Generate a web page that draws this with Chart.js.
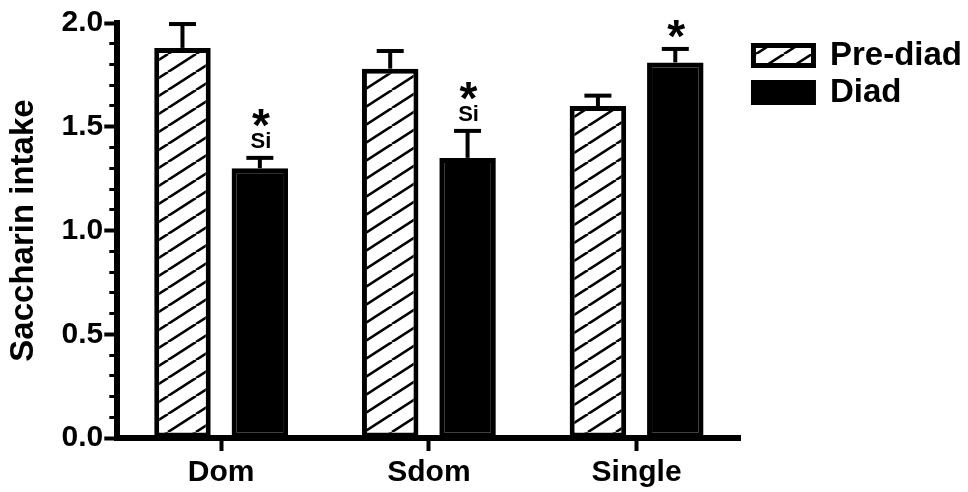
<!DOCTYPE html>
<html>
<head>
<meta charset="utf-8">
<script src="https://cdn.jsdelivr.net/npm/chart.js@4.4.1/dist/chart.umd.min.js"></script>
<style>
  html, body { margin: 0; padding: 0; background: #fff; }
  #wrap { width: 968px; height: 492px; position: relative; }
</style>
</head>
<body>
<div id="wrap"><canvas id="c"></canvas></div>
<script>
// ---- data ----
const categories = ['Dom', 'Sdom', 'Single'];
const seriesNames = ['Pre-diad', 'Diad'];
const preDiad = [1.88, 1.78, 1.60];
const preDiadErr = [0.115, 0.085, 0.05];
const diad = [1.30, 1.35, 1.81];
const diadErr = [0.05, 0.13, 0.065];
const starLabels = ['*', '*', '*'];
const subLabels = ['Si', 'Si', ''];
const yAxisTitle = 'Saccharin intake';
const yMin = 0, yMax = 2.0, yStep = 0.1, yMajor = 0.5;

const FONT = '"Liberation Sans", Arial, Helvetica, sans-serif';
const LEGEND_WIDEN = 5;   // extra room between plot area and legend
const LEGEND_SHIFT = 9;   // shift legend entries right inside that room
Chart.defaults.font.family = FONT;
Chart.defaults.font.weight = 'bold';
Chart.defaults.color = '#000';

function makeHatch() {
  const W = 28, H = 18;
  const c = document.createElement('canvas');
  c.width = W; c.height = H;
  const g = c.getContext('2d');
  g.fillStyle = '#fff';
  g.fillRect(0, 0, W, H);
  g.strokeStyle = '#000';
  g.lineWidth = 2.6;
  for (const dx of [-W, 0, W]) {
    g.beginPath();
    g.moveTo(dx, H);
    g.lineTo(dx + W, 0);
    g.stroke();
  }
  return g.createPattern(c, 'repeat');
}
const hatch = makeHatch();

const errorSets = [preDiadErr, diadErr];
const valueSets = [preDiad, diad];

const errorBarPlugin = {
  id: 'errorBars',
  afterDatasetsDraw(chart) {
    const ctx = chart.ctx;
    const yScale = chart.scales.y;
    ctx.save();
    ctx.strokeStyle = '#000';
    ctx.lineWidth = 4;
    ctx.lineCap = 'butt';
    chart.data.datasets.forEach((ds, di) => {
      const meta = chart.getDatasetMeta(di);
      meta.data.forEach((bar, i) => {
        const v = valueSets[di][i];
        const e = errorSets[di][i];
        const yTop = yScale.getPixelForValue(v + e);
        const yBar = yScale.getPixelForValue(v);
        ctx.beginPath();
        ctx.moveTo(bar.x, yBar);
        ctx.lineTo(bar.x, yTop);
        ctx.stroke();
        ctx.beginPath();
        ctx.moveTo(bar.x - 13.5, yTop);
        ctx.lineTo(bar.x + 13.5, yTop);
        ctx.stroke();
      });
    });
    // significance marks on Diad bars
    const meta = chart.getDatasetMeta(1);
    ctx.fillStyle = '#000';
    ctx.textAlign = 'center';
    ctx.textBaseline = 'alphabetic';
    meta.data.forEach((bar, i) => {
      const capY = yScale.getPixelForValue(diad[i] + diadErr[i]);
      let starBottom;
      if (subLabels[i]) {
        ctx.font = 'bold 22px ' + FONT;
        const siBase = capY - 9.5;
        ctx.fillText(subLabels[i], bar.x + 1, siBase);
        starBottom = siBase - 21;
      } else {
        starBottom = capY - 11;
      }
      if (starLabels[i]) {
        ctx.font = 'bold 46px ' + FONT;
        const m = ctx.measureText(starLabels[i]);
        ctx.fillText(starLabels[i], bar.x + 1, starBottom - m.actualBoundingBoxDescent);
      }
    });
    ctx.restore();
  }
};

// leaves a small gap between the plot area and the legend entries
const legendGapPlugin = {
  id: 'legendGap',
  afterInit(chart) {
    const lg = chart.legend;
    if (!lg) return;
    const origFit = lg.fit;
    lg.fit = function () {
      origFit.apply(this, arguments);
      this.width += LEGEND_WIDEN;
    };
  },
  afterLayout(chart) {
    const lg = chart.legend;
    if (lg) lg.left += LEGEND_SHIFT;
  }
};

function isMajor(v) {
  return Math.abs(v / yMajor - Math.round(v / yMajor)) < 1e-6;
}

new Chart(document.getElementById('c'), {
  type: 'bar',
  data: {
    labels: categories,
    datasets: [
      {
        label: seriesNames[0],
        data: preDiad,
        backgroundColor: hatch,
        borderColor: '#000',
        borderWidth: 5,
        borderSkipped: false,
        categoryPercentage: 0.745,
        barPercentage: 0.73
      },
      {
        label: seriesNames[1],
        data: diad,
        backgroundColor: '#000',
        borderColor: '#000',
        borderWidth: 5,
        borderSkipped: false,
        categoryPercentage: 0.745,
        barPercentage: 0.73
      }
    ]
  },
  options: {
    responsive: true,
    maintainAspectRatio: false,
    animation: false,
    events: [],
    layout: { padding: { top: 23, left: 0, right: 0, bottom: -3 } },
    plugins: {
      tooltip: { enabled: false },
      legend: {
        position: 'right',
        align: 'start',
        title: { display: true, text: '', font: { size: 10 }, padding: 0 },
        labels: {
          boxWidth: 60,
          boxHeight: 20,
          padding: 4,
          color: '#000',
          font: { size: 33, weight: 'bold', family: FONT }
        }
      }
    },
    scales: {
      x: {
        offset: true,
        border: { display: true, color: '#000', width: 6 },
        grid: {
          offset: false,
          drawOnChartArea: false,
          drawTicks: true,
          tickLength: 13,
          tickWidth: 4,
          tickColor: '#000',
          lineWidth: 1,
          color: '#000'
        },
        ticks: {
          padding: 4,
          color: '#000',
          font: { size: 30, weight: 'bold', family: FONT }
        }
      },
      y: {
        min: yMin,
        max: yMax,
        border: { display: true, color: '#000', width: 6 },
        grid: {
          drawOnChartArea: false,
          drawTicks: true,
          tickLength: 13,
          tickColor: '#000',
          lineWidth: 1,
          color: '#000',
          tickWidth: (ctx) => (ctx.tick && isMajor(ctx.tick.value)) ? 4 : 3,
          tickBorderDash: (ctx) => (ctx.tick && isMajor(ctx.tick.value)) ? [] : [0, 5, 30]
        },
        ticks: {
          stepSize: yStep,
          autoSkip: false,
          padding: 1,
          color: '#000',
          font: { size: 30, weight: 'bold', family: FONT },
          callback: (v) => isMajor(v) ? Number(v).toFixed(1) : ''
        },
        title: {
          display: true,
          text: yAxisTitle,
          color: '#000',
          font: { size: 33, weight: 'bold', family: FONT },
          padding: { top: 4, bottom: 17 }
        }
      }
    }
  },
  plugins: [errorBarPlugin, legendGapPlugin]
});
</script>
</body>
</html>
